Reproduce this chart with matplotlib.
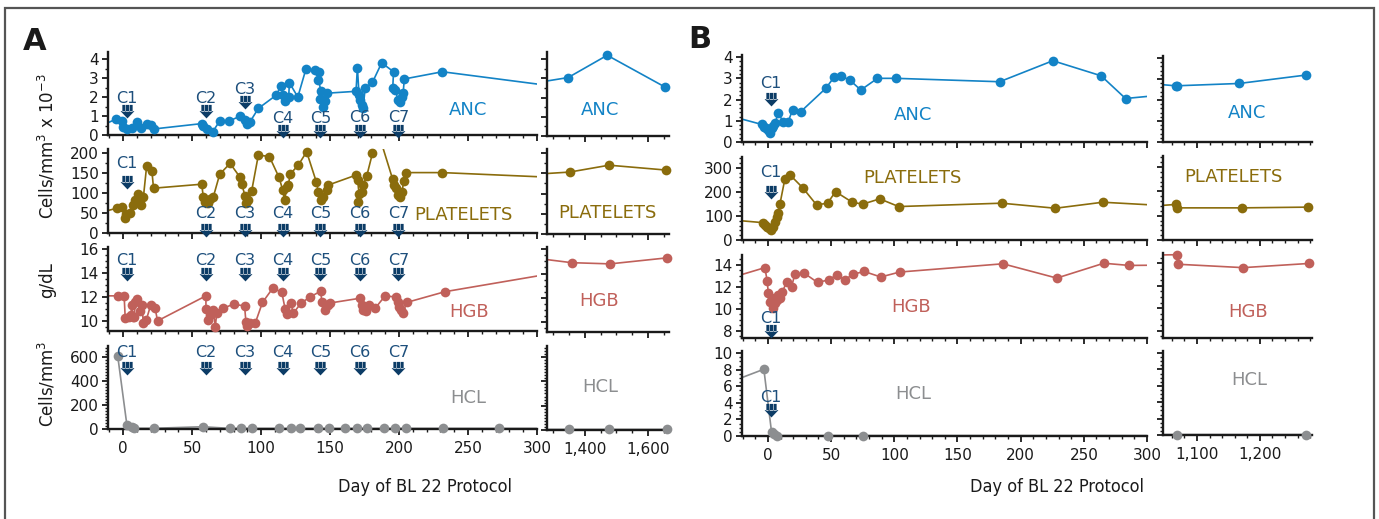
import numpy as np
import matplotlib.pyplot as plt
from matplotlib.path import Path
from matplotlib.patches import Rectangle
from matplotlib.ticker import AutoMinorLocator, FuncFormatter

W, H = 1379, 519

# ---------------- data (day, value) ----------------
# Panel A
a_anc = [(-20, 0.36), (-5, 0.84), (-1, 0.73), (0, 0.4), (2.7, 0.3), (6.3, 0.35), (10, 0.7),
         (12.8, 0.35), (17, 0.6), (20, 0.52), (22.5, 0.32), (57, 0.6), (58, 0.47), (60.6, 0.3),
         (65, 0.18), (70, 0.74), (77, 0.74), (85, 1.0), (88, 0.79), (89.6, 0.58), (92, 0.7),
         (98, 1.4), (111, 2.1), (114.5, 2.6), (116, 2.1), (117.4, 1.8), (120, 2.0), (120.5, 2.75),
         (126.6, 2.0), (132.6, 3.5), (139, 3.4), (142, 3.3), (141.5, 2.9), (143.5, 2.3),
         (143, 1.9), (145, 1.45), (146, 1.8), (147.5, 2.2), (168.8, 2.3), (169.8, 3.55),
         (171, 2.1), (172, 1.85), (173.4, 1.58), (174, 1.44), (175.4, 2.45), (180.7, 2.77),
         (187.4, 3.8), (196, 3.33), (195.4, 2.45), (197, 2.37), (199.5, 1.84), (200.7, 1.75),
         (202, 2.0), (203, 2.23), (203.8, 2.95), (231.4, 3.33), (500, 0.8), (1347, 3.04),
         (1471, 4.2), (1654, 2.55)]
a_plt = [(-20, 48), (-4.6, 62), (-1, 66), (1.5, 37), (2.2, 47), (5, 49), (7, 70), (8.7, 82),
         (11, 97), (12.8, 70), (14.7, 91), (17, 167), (20.8, 156), (22, 112), (57, 122), (58, 91),
         (59.4, 78), (61.8, 74), (63, 85), (65.4, 91), (70, 147), (77.5, 174), (84.8, 139),
         (86, 122), (88.4, 92), (89, 74), (90.8, 82), (93.2, 106), (98, 195), (106, 191),
         (113, 139), (115.7, 107), (117, 82), (118.6, 116), (119.8, 120), (121, 147), (127, 170),
         (133, 203), (140, 128), (141.5, 103), (143.2, 82), (145, 91), (147.6, 107),
         (148.8, 120), (169, 145), (170, 132), (171, 97), (170.5, 78), (173, 103), (174, 120),
         (176.6, 143), (180.7, 199), (185, 250), (195.4, 134), (196.4, 120), (197.8, 112),
         (199.5, 95), (200.7, 91), (202, 103), (203.6, 131), (204.8, 151), (231.4, 151),
         (500, 111), (1352, 153), (1477, 170), (1657, 158)]
a_hgb = [(-20, 12.1), (-3.4, 12.1), (0.7, 12.1), (1.5, 10.2), (3.9, 10.3), (5.5, 10.5),
         (6.3, 11.3), (7, 10.35), (8, 10.3), (8.7, 11.6), (9.9, 11.8), (12.3, 10.85),
         (13.5, 11.35), (14.7, 9.8), (16.7, 10.05), (20, 11.35), (23.2, 11.05), (24.9, 10.0),
         (60, 12.1), (60, 11.0), (61.8, 10.05), (63, 10.5), (64.3, 10.8), (65.4, 10.9),
         (66.7, 9.45), (67.9, 10.7), (72.2, 11.05), (80, 11.4), (88, 11.25), (89, 9.9),
         (90, 9.6), (92, 9.8), (95.7, 9.8), (101, 11.55), (108.5, 12.75), (115, 12.4),
         (117.4, 11.0), (119, 10.6), (121.5, 11.5), (123.4, 10.65), (129, 11.5), (135.5, 12.0),
         (143.2, 12.5), (144, 11.6), (146.4, 10.9), (148.8, 11.35), (150, 11.5), (171.7, 11.9),
         (173, 11.35), (174, 10.9), (176, 10.8), (178.5, 11.35), (182.6, 11.05), (189.9, 12.1),
         (197.8, 12.0), (199.5, 11.6), (200.2, 11.2), (201.2, 10.9), (202.7, 10.65),
         (205.6, 11.55), (233.3, 12.45), (500, 17.7), (1358, 14.9), (1480, 14.8), (1661, 15.3)]
a_hcl = [(-4, 611), (2.7, 33), (6.3, 14), (7.5, 6), (22.5, 6), (57.7, 19), (77.5, 5), (85.3, 5),
         (93.7, 5), (113, 5), (121.5, 5), (128, 5), (141.5, 5), (149.5, 5), (161, 5), (169.3, 5),
         (177, 5), (189, 5), (197, 5), (205, 5), (232, 5), (272.7, 5), (500, 5), (1350, 5),
         (1477, 5), (1660, 5)]

# Panel B
b_anc = [(-30, 1.23), (-5, 0.83), (-3.2, 0.69), (-1.6, 0.64), (0.3, 0.56), (1.6, 0.44),
         (2.9, 0.64), (4.2, 0.75), (5.5, 0.88), (8.2, 1.35), (12.1, 0.96), (16, 0.96),
         (19.5, 1.5), (26, 1.43), (45.8, 2.53), (52.2, 3.04), (58.2, 3.1), (64.8, 2.92),
         (73.5, 2.45), (86.7, 3.0), (101.7, 3.0), (183.4, 2.84), (225.5, 3.83), (263.7, 3.12),
         (283, 2.05), (600, 3.85), (1066, 2.68), (1068, 2.68), (1167, 2.79), (1273, 3.19)]
b_plt = [(-30, 84), (-3.7, 72), (-2.4, 62), (-0.5, 55), (1, 49), (2.1, 42), (4.2, 55), (5.5, 76),
         (6.9, 97), (8.2, 111), (9.5, 149), (13.4, 253), (17.4, 271), (27.4, 218), (38.5, 146),
         (47.2, 153), (53.5, 201), (66.7, 157), (75, 149), (88.5, 171), (103.5, 139), (185, 153),
         (227.5, 132), (265, 157), (600, 60), (1066, 146), (1068, 132), (1172, 132), (1276, 135)]
b_hgb = [(-30, 12.8), (-2.4, 13.75), (-0.5, 12.5), (0.3, 11.4), (1.6, 10.65), (2.9, 10.95),
         (4.2, 10.05), (5.5, 10.5), (6.9, 10.8), (8.2, 11.25), (9.5, 10.95), (11.3, 11.55),
         (14.8, 12.4), (18.7, 12.0), (21.3, 13.15), (28.7, 13.25), (39.3, 12.4), (48.5, 12.65),
         (54.3, 13.1), (60.9, 12.65), (67.4, 13.15), (76.2, 13.4), (89.3, 12.9), (104.3, 13.35),
         (186, 14.1), (228.6, 12.8), (265.8, 14.15), (286, 13.95), (600, 14.3), (1068, 14.75),
         (1070, 13.9), (1173.5, 13.6), (1278, 13.97)]
b_hcl = [(-30, 6.5), (-3.2, 8.05), (2.9, 0.45), (4.7, 0.25), (7.4, 0.05), (47.7, 0.05),
         (75.3, 0.05), (600, 0.05), (1069, 0.05), (1273, 0.05)]

# chemotherapy cycles: day, then arrow / label heights in each row
a_cycle_day = [2.7, 60, 88.4, 115.7, 143, 171.7, 199.5]
a_cycle_name = ['C1', 'C2', 'C3', 'C4', 'C5', 'C6', 'C7']
a_anc_arrow = [1.28, 1.28, 1.75, 0.2, 0.2, 0.2, 0.2]
a_anc_label = [1.9, 1.9, 2.41, 0.88, 0.88, 0.9, 0.9]
a_plt_arrow = [128, 7.5, 7.5, 7.5, 7.5, 7.5, 7.5]
a_plt_label = [175, 47.5, 47.5, 47.5, 47.5, 47.5, 47.5]
a_hgb_arrow = [13.9] * 7
a_hgb_label = [15.1] * 7
a_hcl_arrow = [508] * 7
a_hcl_label = [633] * 7

b_cycle_day = [2.5]
b_cycle_name = ['C1']
b_anc_arrow, b_anc_label = [2.02], [2.78]
b_plt_arrow, b_plt_label = [200], [279]
b_hgb_arrow, b_hgb_label = [8.0], [9.1]
b_hcl_arrow, b_hcl_label = [3.1], [4.6]

# ---------------- style ----------------
C_ANC = '#1383c6'
C_PLT = '#8a6c0c'
C_HGB = '#c0605a'
C_HCL = '#8c8e90'
C_ARROW = '#0c3c66'
C_CLAB = '#1d4f7c'


def arrow_path():
    verts, codes = [], []

    def poly(pts):
        verts.extend(pts + [pts[0]])
        codes.extend([Path.MOVETO] + [Path.LINETO] * (len(pts) - 1) + [Path.CLOSEPOLY])
    poly([(-1.0, 0.05), (1.0, 0.05), (0.0, -1.0)])
    for cx in (-0.52, 0.0, 0.52):
        poly([(cx - 0.22, 0.0), (cx + 0.22, 0.0), (cx + 0.22, 0.95), (cx - 0.22, 0.95)])
    return Path(verts, codes)


ARROW = arrow_path()

fig = plt.figure(figsize=(W / 100, H / 100), dpi=100)


def px_axes(x0, y0, x1, y1):
    return fig.add_axes([x0 / W, 1 - y1 / H, (x1 - x0) / W, (y1 - y0) / H])


def ftext(x, y, s, **kw):
    fig.text(x / W, 1 - y / H, s, ha='center', va='center', **kw)


def style_axes(ax, xlim, ylim, xticks, xminor, yticks, yminor, xlabels, ylabels, comma=False):
    ax.set_xlim(*xlim)
    ax.set_ylim(*ylim)
    for s in ('top', 'right'):
        ax.spines[s].set_visible(False)
    for s in ('left', 'bottom'):
        ax.spines[s].set_linewidth(1.7)
        ax.spines[s].set_color('#1a1a1a')
    ax.set_xticks(xticks)
    ax.set_yticks(yticks)
    ax.xaxis.set_minor_locator(AutoMinorLocator(xminor))
    ax.yaxis.set_minor_locator(AutoMinorLocator(yminor))
    ax.tick_params(which='major', direction='out', length=4.5, width=1.3, labelsize=11,
                   pad=2, colors='#1a1a1a')
    ax.tick_params(which='minor', direction='out', length=2.5, width=1.0, colors='#1a1a1a')
    ax.tick_params(axis='x', pad=4)
    if comma:
        ax.xaxis.set_major_formatter(FuncFormatter(lambda v, p: f'{int(v):,}'))
    if not xlabels:
        ax.set_xticklabels([])
    if not ylabels:
        ax.set_yticklabels([])
    ax.patch.set_alpha(0)


def draw_series(ax, pairs, color):
    d = np.array([p[0] for p in pairs], float)
    v = np.array([p[1] for p in pairs], float)
    ax.plot(d, v, '-', color=color, lw=1.2, zorder=2)
    x0, x1 = ax.get_xlim()
    y0, y1 = ax.get_ylim()
    keep = (d >= x0) & (d <= x1) & (v >= y0) & (v <= y1)
    ax.plot(d[keep], v[keep], 'o', color=color, ms=7, mec='none', clip_on=False, zorder=3)


def draw_cycles(ax, days, names, arrow_y, label_y):
    ax.plot(days, arrow_y, ls='none', marker=ARROW, ms=10, color=C_ARROW, mec='none',
            clip_on=False, zorder=4)
    for d, n, ly in zip(days, names, label_y):
        ax.text(d, ly, n, color=C_CLAB, fontsize=11.5, ha='center', va='center', zorder=4)


# ---------------- panel A ----------------
a_rows = [
    (a_anc, C_ANC, (0, 4.37), [0, 1, 2, 3, 4], 2, (52, 135), a_anc_arrow, a_anc_label,
     'ANC', (468, 110), (600, 110)),
    (a_plt, C_PLT, (0, 210), [0, 50, 100, 150, 200], 2, (149, 233), a_plt_arrow, a_plt_label,
     'PLATELETS', (463, 215), (607, 213)),
    (a_hgb, C_HGB, (9.15, 16.2), [10, 12, 14, 16], 4, (247, 331), a_hgb_arrow, a_hgb_label,
     'HGB', (469, 312), (599, 301)),
    (a_hcl, C_HCL, (0, 690), [0, 200, 400, 600], 8, (346, 429), a_hcl_arrow, a_hcl_label,
     'HCL', (468, 398), (600, 387)),
]
for i, (pairs, col, ylim, yt, ymn, (ty, by), arr, lab, name, pm, pr) in enumerate(a_rows):
    last = i == len(a_rows) - 1
    ax = px_axes(108, ty, 537, by)
    style_axes(ax, (-11, 300), ylim, [0, 50, 100, 150, 200, 250, 300], 5, yt, ymn, last, True)
    draw_series(ax, pairs, col)
    draw_cycles(ax, a_cycle_day, a_cycle_name, arr, lab)
    axr = px_axes(547, ty, 669, by + 1)
    style_axes(axr, (1280, 1667), ylim, [1400, 1600], 4, yt, ymn, last, False, comma=True)
    draw_series(axr, pairs, col)
    ftext(pm[0], pm[1], name, color=col, fontsize=13)
    ftext(pr[0], pr[1], name, color=col, fontsize=13)

# ---------------- panel B ----------------
b_rows = [
    (b_anc, C_ANC, (0, 4.1), [0, 1, 2, 3, 4], 5, (55, 142), (56, 142), b_anc_arrow, b_anc_label,
     'ANC', (913, 115), (1247, 113)),
    (b_plt, C_PLT, (0, 345), [0, 100, 200, 300], 5, (157, 240), (156, 240), b_plt_arrow,
     b_plt_label, 'PLATELETS', (912, 178), (1233, 177)),
    (b_hgb, C_HGB, (7.35, 14.9), [8, 10, 12, 14], 4, (255, 338), (253, 338), b_hgb_arrow,
     b_hgb_label, 'HGB', (911, 307), (1248, 312)),
    (b_hcl, C_HCL, (0, 10.25), [0, 2, 4, 6, 8, 10], 4, (351, 436), (351, 435), b_hcl_arrow,
     b_hcl_label, 'HCL', (913, 394), (1249, 380)),
]
for i, (pairs, col, ylim, yt, ymn, (ty, by), (rty, rby), arr, lab, name, pm, pr) in enumerate(b_rows):
    last = i == len(b_rows) - 1
    ax = px_axes(742, ty, 1147, by)
    style_axes(ax, (-20.5, 300), ylim, [0, 50, 100, 150, 200, 250, 300], 5, yt, ymn, last, True)
    draw_series(ax, pairs, col)
    draw_cycles(ax, b_cycle_day, b_cycle_name, arr, lab)
    axr = px_axes(1163, rty, 1312, rby)
    style_axes(axr, (1046, 1283), ylim, [1100, 1200], 5, yt, ymn, last, False, comma=True)
    draw_series(axr, pairs, col)
    ftext(pm[0], pm[1], name, color=col, fontsize=13)
    ftext(pr[0], pr[1], name, color=col, fontsize=13)

# ---------------- labels & frame ----------------
ftext(35, 41, 'A', fontsize=22, fontweight='bold', color='#1a1a1a')
ftext(700, 40, 'B', fontsize=22, fontweight='bold', color='#1a1a1a')
ftext(47, 146, r'Cells/mm$^3$ x 10$^{-3}$', rotation=90, fontsize=12, color='#1a1a1a')
ftext(47, 280, 'g/dL', rotation=90, fontsize=12, color='#1a1a1a')
ftext(47, 384, r'Cells/mm$^3$', rotation=90, fontsize=12, color='#1a1a1a')
ftext(425, 487, 'Day of BL 22 Protocol', fontsize=13, color='#1a1a1a', fontstretch='condensed')
ftext(1057, 487, 'Day of BL 22 Protocol', fontsize=13, color='#1a1a1a', fontstretch='condensed')

fig.patches.append(Rectangle((5 / W, -0.05), (1374 - 5) / W, 1.05 - 8 / H,
                             transform=fig.transFigure, fill=False, lw=1.6,
                             edgecolor='#555555'))

fig.savefig('out.png', dpi=100, facecolor='white')
